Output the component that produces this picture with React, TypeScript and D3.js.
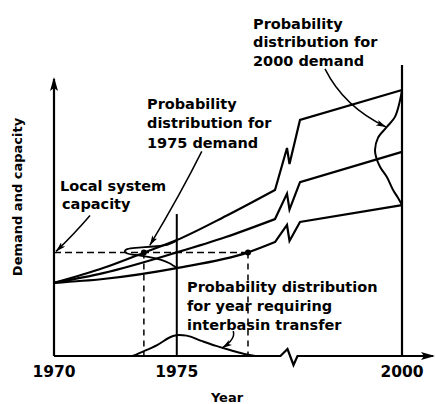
import React from 'react';
import * as d3 from 'd3';

// tick labels on the year axis
const tickYears = [1970, 1975, 2000];

// local system capacity (demand units) and the years the demand lines reach it
const capacity = 37;
const crossingYears = [1973.66, 1977.9];

// axis break: years skipped between these two
const breakFrom = 1979;
const breakTo = 1985;

// demand projections [year, demand]
const upperDemand: [number, number][] = [
  [1970, 26.1], [1972, 31.4], [1973.66, 36.9], [1975, 41.4], [1977, 50.0], [1979, 59.3],
  [1985, 84.3], [2000, 95.0],
];
const middleDemand: [number, number][] = [
  [1970, 26.1], [1972, 29.6], [1975, 37.0], [1977, 42.5], [1979, 48.9],
  [1985, 62.1], [2000, 72.9],
];
const lowerDemand: [number, number][] = [
  [1970, 26.1], [1972, 27.5], [1975, 31.4], [1977.9, 37.0], [1979, 40.7],
  [1985, 47.9], [2000, 53.9],
];

// probability distribution of 1975 demand (drawn sideways off the 1975 line)
const dist1975Demand = [41.4, 40.6, 39.8, 39.1, 38.6, 38.0, 37.3, 36.6, 36.1, 35.4, 34.3, 33.2, 32.2, 31.4];
const dist1975Density = [0, 0.06, 0.17, 0.45, 0.8, 0.97, 1, 0.95, 0.8, 0.55, 0.3, 0.15, 0.06, 0];

// probability distribution of 2000 demand
const dist2000Demand = [95.0, 91.4, 85.4, 81.8, 77.9, 73.6, 71.1, 67.5, 63.9, 59.3, 56.5, 53.9];
const dist2000Density = [0, 0.07, 0.26, 0.56, 0.89, 1, 0.96, 0.81, 0.56, 0.33, 0.15, 0];

// probability distribution of the year requiring interbasin transfer
const transferYears = [1973.2, 1973.6, 1974.2, 1974.85, 1975.1, 1975.4, 1976, 1976.6, 1977.2, 1977.8, 1978.2];
const transferDensity = [0, 0.2, 0.52, 0.95, 1, 0.97, 0.72, 0.48, 0.27, 0.08, 0];

const W = 435, H = 404;
const font = "'DejaVu Sans', sans-serif";

const App: React.FC = () => {
  const x = d3.scaleLinear().domain([1970, breakFrom, breakTo, 2000]).range([54, 275, 300, 402]);
  const y = d3.scaleLinear().domain([0, 100]).range([356, 76]);
  const y0 = y(0);

  const width1975 = 52, width2000 = 27, transferHeight = 21;

  const seriesPath = (data: [number, number][]) => {
    const pre = data.filter(d => d[0] <= breakFrom).map(d => [x(d[0]), y(d[1])] as [number, number]);
    const post = data.filter(d => d[0] >= breakTo).map(d => [x(d[0]), y(d[1])] as [number, number]);
    const p1 = pre[pre.length - 1], p2 = post[0];
    const mx = (p1[0] + p2[0]) / 2, my = (p1[1] + p2[1]) / 2;
    // the "N" break mark
    const zig = `L${mx - 0.5},${my - 7}L${mx + 2},${my + 9}`;
    const rest = post.map(p => `L${p[0]},${p[1]}`).join('');
    return (d3.line().curve(d3.curveMonotoneX)(pre) || '') + zig + rest;
  };

  const sideways = d3.line<[number, number]>().curve(d3.curveCatmullRom.alpha(0.5));
  const d1975 = sideways(dist1975Demand.map((v, i) => [x(1975) - dist1975Density[i] * width1975, y(v)]));
  const d2000 = sideways(dist2000Demand.map((v, i) => [x(2000) - dist2000Density[i] * width2000, y(v)]));
  const dTransfer = d3.line<[number, number]>().curve(d3.curveMonotoneX)(
    transferYears.map((t, i) => [x(t), y0 - transferDensity[i] * transferHeight])
  );

  const breakX = (x(breakFrom) + x(breakTo)) / 2;
  const xAxisPath = `M${x(1970)},${y0}L${breakX - 7},${y0}L${breakX},${y0 - 7}L${breakX + 6},${y0 + 9}L${breakX + 10},${y0}L433,${y0}`;

  const capY = y(capacity);
  const quad = (s: number[], c: number[], e: number[]) => `M${s[0]},${s[1]}Q${c[0]},${c[1]} ${e[0]},${e[1]}`;

  const capEnd = [x(1970) + 2, capY - 1];
  const d75End = [x(1975) - 27, y(39.5)];
  const d00End = [x(2000) - 16, y(81.8)];
  const trEnd = [x(1976.85), y0 - 8];

  const textStyle = { fontFamily: font, fontWeight: 700, fill: '#000' } as const;

  return (
    <svg width={W} height={H} style={{ position: 'absolute', left: 0, top: 0, background: '#fff' }}>
      <defs>
        <marker id="axisArrow" markerUnits="userSpaceOnUse" viewBox="0 0 14 8" markerWidth={14} markerHeight={8}
          refX={12} refY={4} orient="auto">
          <path d="M0,0L14,4L0,8L3,4Z" fill="#000" />
        </marker>
        <marker id="noteArrow" markerUnits="userSpaceOnUse" viewBox="0 0 10 6" markerWidth={10} markerHeight={6}
          refX={10} refY={3} orient="auto">
          <path d="M0,0L10,3L0,6L2.5,3Z" fill="#000" />
        </marker>
      </defs>

      {/* axes */}
      <path d={`M${x(1970)},${y0}L${x(1970)},79`} stroke="#000" strokeWidth={2.2} fill="none" markerEnd="url(#axisArrow)" />
      <path d={xAxisPath} stroke="#000" strokeWidth={2.2} fill="none" strokeLinejoin="miter" markerEnd="url(#axisArrow)" />

      {/* year guides */}
      <line x1={x(1975)} x2={x(1975)} y1={y0} y2={y(50.7)} stroke="#000" strokeWidth={2} />
      <line x1={x(2000)} x2={x(2000)} y1={y0} y2={y(103.9)} stroke="#000" strokeWidth={2.2} />

      {/* capacity and crossing dashes */}
      <line x1={x(1970)} x2={x(crossingYears[1])} y1={capY} y2={capY} stroke="#000" strokeWidth={1.5} strokeDasharray="7 4" />
      {crossingYears.map(t => (
        <g key={t}>
          <line x1={x(t)} x2={x(t)} y1={capY} y2={y0} stroke="#000" strokeWidth={1.5} strokeDasharray="6 5" />
          <circle cx={x(t)} cy={capY} r={3} fill="#000" />
        </g>
      ))}

      {/* demand projections */}
      {[upperDemand, middleDemand, lowerDemand].map((s, i) => (
        <path key={i} d={seriesPath(s)} stroke="#000" strokeWidth={2.2} fill="none" strokeLinejoin="miter" />
      ))}

      {/* distributions */}
      <path d={d1975 || ''} stroke="#000" strokeWidth={1.8} fill="none" />
      <path d={d2000 || ''} stroke="#000" strokeWidth={2} fill="none" />
      <path d={dTransfer || ''} stroke="#000" strokeWidth={2} fill="none" />

      {/* annotation arrows */}
      <path d={quad([capEnd[0] + 34, capEnd[1] - 36], [75, 233], capEnd)} stroke="#000" strokeWidth={1.5} fill="none" markerEnd="url(#noteArrow)" />
      <path d={quad([d75End[0] + 52, d75End[1] - 94], [180, 195], d75End)} stroke="#000" strokeWidth={1.5} fill="none" markerEnd="url(#noteArrow)" />
      <path d={quad([d00End[0] - 61, d00End[1] - 58], [344, 107], d00End)} stroke="#000" strokeWidth={1.5} fill="none" markerEnd="url(#noteArrow)" />
      <path d={quad([trEnd[0] + 11, trEnd[1] - 17], [236, 339], trEnd)} stroke="#000" strokeWidth={1.5} fill="none" markerEnd="url(#noteArrow)" />

      {/* tick labels */}
      {tickYears.map(t => (
        <text key={t} x={x(t)} y={377} textAnchor="middle" fontSize={15.5} {...textStyle}>{t}</text>
      ))}
      <text x={227} y={402} textAnchor="middle" fontSize={13} {...textStyle}>Year</text>
      <text transform="translate(22,197) rotate(-90)" textAnchor="middle" fontSize={13} {...textStyle}>Demand and capacity</text>

      {/* notes */}
      <text fontSize={14.5} {...textStyle}>
        <tspan x={253} y={28.5}>Probability</tspan>
        <tspan x={253} y={47}>distribution for</tspan>
        <tspan x={253} y={65.5}>2000 demand</tspan>
      </text>
      <text fontSize={14.5} {...textStyle}>
        <tspan x={147} y={108.5}>Probability</tspan>
        <tspan x={147} y={128}>distribution for</tspan>
        <tspan x={147} y={147.5}>1975 demand</tspan>
      </text>
      <text fontSize={14.5} {...textStyle}>
        <tspan x={60} y={190.5}>Local system</tspan>
        <tspan x={62} y={209}>capacity</tspan>
      </text>
      <text fontSize={14.5} {...textStyle}>
        <tspan x={187} y={292}>Probability distribution</tspan>
        <tspan x={187} y={311}>for year requiring</tspan>
        <tspan x={187} y={330}>interbasin transfer</tspan>
      </text>
    </svg>
  );
};

export default App;
